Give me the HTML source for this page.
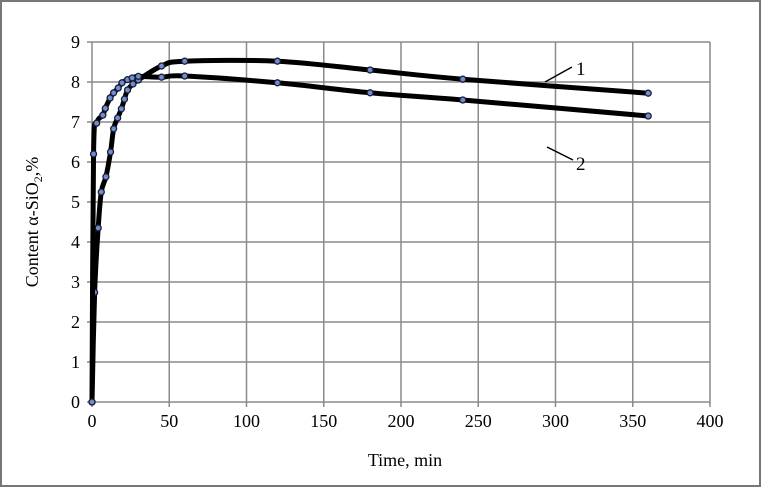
<!DOCTYPE html>
<html><head><meta charset="utf-8"><style>
body{margin:0;background:#fff;}
svg{display:block;font-family:"Liberation Serif",serif;}
</style></head><body>
<svg id="chart" width="761" height="487">
<rect x="1" y="1" width="759" height="485" fill="#fff" stroke="#777" stroke-width="2"/>
<g id="grid"></g>
<g id="series"></g>
<g id="axes"></g>
<text x="405" y="466" font-size="18" text-anchor="middle">Time, min</text>
<text transform="translate(38,222) rotate(-90)" font-size="18" text-anchor="middle">Content α-SiO<tspan font-size="12" dy="4">2</tspan><tspan dy="-4">,%</tspan></text>
<line x1="545" y1="82" x2="572" y2="67" stroke="#000" stroke-width="1.5"/>
<text x="576" y="75" font-size="19">1</text>
<line x1="547" y1="147" x2="573" y2="160" stroke="#000" stroke-width="1.5"/>
<text x="576" y="170" font-size="19">2</text>
</svg>
<script>
const xTicks=[0,50,100,150,200,250,300,350,400];
const yTicks=[0,1,2,3,4,5,6,7,8,9];
const s1Time=[0,1.7,4,6,9,12,14,16.6,19,21,23,26.5,30,45,60,120,180,240,360];
const s1Val=[0,2.74,4.35,5.25,5.63,6.25,6.83,7.1,7.33,7.57,7.8,7.95,8.05,8.4,8.52,8.52,8.3,8.07,7.72];
const s2Time=[0,1,3,7,8.6,11.7,14,17,19.4,23,26,30,45,60,120,180,240,360];
const s2Val=[0,6.2,6.97,7.17,7.34,7.6,7.73,7.85,7.98,8.06,8.1,8.14,8.12,8.15,7.98,7.73,7.55,7.15];
const X0=92,X1=710,Y0=402,Y1=42;
const xs=t=>X0+(t-0)/(400)*(X1-X0);
const ys=v=>Y0-(v/9)*(Y0-Y1);
const NS='http://www.w3.org/2000/svg';
function mk(tag,attrs,parent){const e=document.createElementNS(NS,tag);for(const k in attrs)e.setAttribute(k,attrs[k]);parent.appendChild(e);return e;}
const grid=document.getElementById('grid'),axes=document.getElementById('axes'),ser=document.getElementById('series');
xTicks.forEach(t=>{
  const l=mk('line',{x1:xs(t),x2:xs(t),y1:Y1,y2:Y0+5,stroke:'#8a8a8a','stroke-width':1.5},grid);
  
  
  const tx=mk('text',{x:xs(t),y:Y0+25,'font-size':18,'text-anchor':'middle'},axes);
  tx.textContent=t;
  
  
});
yTicks.forEach(v=>{
  const l=mk('line',{x1:X0-5,x2:X1,y1:ys(v),y2:ys(v),stroke:'#8a8a8a','stroke-width':1.5},grid);
  
  
  const tx=mk('text',{x:X0-12,y:ys(v)+6,'font-size':18,'text-anchor':'end'},axes);
  tx.textContent=v;
  
  
});
function path(pts){
  let d='M'+pts[0][0]+','+pts[0][1];
  for(let i=0;i<pts.length-1;i++){
    const p0=pts[Math.max(0,i-1)],p1=pts[i],p2=pts[i+1],p3=pts[Math.min(pts.length-1,i+2)];
    const k=1/6;
    d+=' C'+(p1[0]+(p2[0]-p0[0])*k)+','+(p1[1]+(p2[1]-p0[1])*k)+' '+(p2[0]-(p3[0]-p1[0])*k)+','+(p2[1]-(p3[1]-p1[1])*k)+' '+p2[0]+','+p2[1];
  }
  return d;
}
function draw(T,V,name){
  const pts=T.map((t,i)=>[xs(t),ys(V[i])]);
  const p=mk('path',{d:path(pts),fill:'none',stroke:'#000','stroke-width':5,'stroke-linejoin':'round'},ser);
  
  
  pts.forEach(q=>{
    const c=mk('circle',{cx:q[0],cy:q[1],r:3,fill:'#6f8fc8',stroke:'#1a1a3a','stroke-width':1.3},ser);
    
    
  });
}
draw(s1Time,s1Val,'series-1');
draw(s2Time,s2Val,'series-2');
</script>
</body></html>
